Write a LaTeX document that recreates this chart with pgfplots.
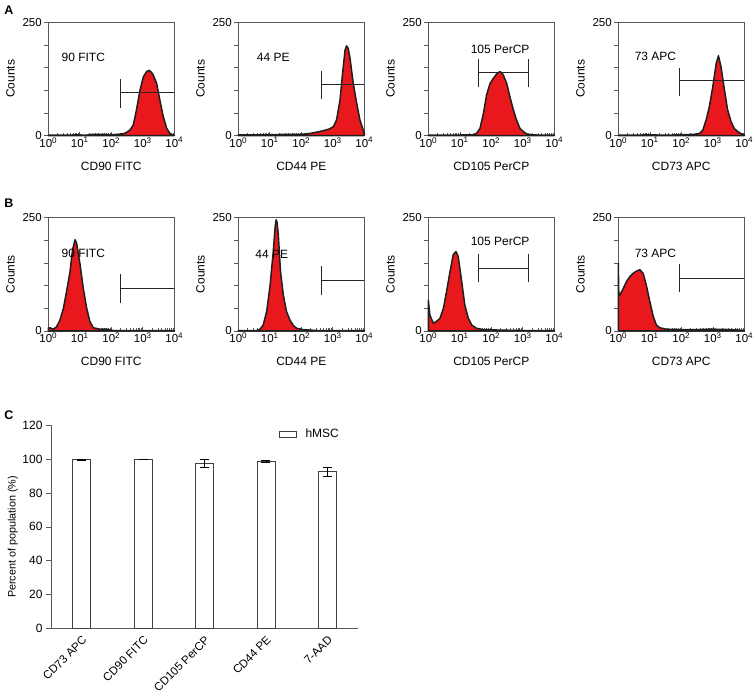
\documentclass[border=0pt]{standalone}
\usepackage{pgfplots}
\pgfplotsset{compat=1.18}
\usepackage{fontspec}
\setmainfont{Liberation Sans}
\definecolor{histred}{RGB}{232,24,28}
\definecolor{axgray}{RGB}{90,90,90}
\tikzset{glabel/.style={font=\fontsize{12}{14}\selectfont, anchor=center}}
\begin{document}
\begin{tikzpicture}
\useasboundingbox (0pt,0pt) rectangle (756pt,700pt);
\pgfplotsset{
  hist/.style={
    width=126pt, height=113.5pt, scale only axis, anchor=south west,
    xmin=0, xmax=4, ymin=0, ymax=250,
    xtick={0,1,2,3,4},
    xticklabels={10\textsuperscript{0},10\textsuperscript{1},10\textsuperscript{2},10\textsuperscript{3},10\textsuperscript{4}},
    minor xtick={0.301,0.477,0.602,0.699,0.778,0.845,0.903,0.954,
                 1.301,1.477,1.602,1.699,1.778,1.845,1.903,1.954,
                 2.301,2.477,2.602,2.699,2.778,2.845,2.903,2.954,
                 3.301,3.477,3.602,3.699,3.778,3.845,3.903,3.954},
    ytick={0,50,100,150,200,250},
    yticklabels={0,,,,,250},
    tick pos=left, tick align=inside,
    major tick length=4pt, minor tick length=2.5pt,
    axis line style={axgray, line width=0.6pt},
    every tick/.style={axgray, line width=0.6pt},
    ytick style={xshift=-4pt},
    ticklabel style={font=\fontsize{11.5}{13}\selectfont},
    xticklabel style={inner sep=1.5pt},
    yticklabel style={xshift=-3pt},
    label style={font=\fontsize{12}{14}\selectfont},
    ylabel={Counts},
    ylabel style={at={(axis description cs:-0.30,0.5)}, anchor=center},
    xlabel style={at={(axis description cs:0.5,-0.27)}, anchor=center},
    clip=false,
  },
  hfill/.style={fill=histred, draw=black!88, line width=1.5pt, line join=round},
  gate/.style={black!85, line width=0.7pt, forget plot},
}
% ---------------- Row A ----------------
\begin{axis}[hist, at={(48.3pt,564.3pt)}, xlabel={CD90 FITC}]
\addplot[hfill] coordinates {(0,1)(0.3,1)(0.6,1)(0.9,2)(1.2,1)(1.4,3)(1.7,3)(2.0,2)(2.2,3)(2.35,4)(2.45,6)(2.59,12)(2.70,24)(2.80,57)(2.91,100)(3.02,130)(3.12,141)(3.20,144)(3.27,140)(3.33,134)(3.44,115)(3.54,79)(3.65,42)(3.76,16)(3.86,5)(3.97,1)(4,1)} \closedcycle;
\addplot[gate] coordinates {(2.30,62)(2.30,125)};
\addplot[gate] coordinates {(2.30,96)(4,96)};
\node[glabel] at (axis cs:1.11,173) {90 FITC};
\end{axis}
\begin{axis}[hist, at={(238.3pt,564.3pt)}, xlabel={CD44 PE}]
\addplot[hfill] coordinates {(0,2)(0.5,2)(1.0,2)(1.5,3)(2.0,3)(2.28,5)(2.5,8)(2.70,11)(2.9,15)(3.02,20)(3.12,35)(3.23,79)(3.31,137)(3.39,189)(3.44,198)(3.49,192)(3.54,174)(3.65,115)(3.76,71)(3.86,35)(3.95,16)(4,5)} \closedcycle;
\addplot[gate] coordinates {(2.65,80)(2.65,143)};
\addplot[gate] coordinates {(2.65,112)(4,112)};
\node[glabel] at (axis cs:1.11,173) {44 PE};
\end{axis}
\begin{axis}[hist, at={(428.3pt,564.3pt)}, xlabel={CD105 PerCP}]
\addplot[hfill] coordinates {(0,1)(0.5,1)(0.9,1)(1.1,2)(1.4,2)(1.53,5)(1.64,16)(1.75,49)(1.85,90)(1.96,115)(2.06,126)(2.17,136)(2.22,139)(2.28,141)(2.33,138)(2.38,134)(2.49,115)(2.59,86)(2.70,57)(2.80,35)(2.91,16)(3.02,9)(3.12,4)(3.3,2)(3.6,1)(4,1)} \closedcycle;
\addplot[gate] coordinates {(1.59,107)(1.59,168)};
\addplot[gate] coordinates {(3.17,107)(3.17,168)};
\addplot[gate] coordinates {(1.59,139)(3.17,139)};
\node[glabel] at (axis cs:2.28,190) {105 PerCP};
\end{axis}
\begin{axis}[hist, at={(618.3pt,564.3pt)}, xlabel={CD73 APC}]
\addplot[hfill] coordinates {(0,1)(0.5,1)(1.0,2)(1.5,1)(2.0,2)(2.4,3)(2.58,5)(2.68,12)(2.79,35)(2.89,64)(3.0,108)(3.11,160)(3.18,176)(3.26,152)(3.37,101)(3.47,57)(3.58,31)(3.68,16)(3.79,9)(3.89,5)(4,2)} \closedcycle;
\addplot[gate] coordinates {(1.95,88)(1.95,150)};
\addplot[gate] coordinates {(1.95,121)(4,121)};
\node[glabel] at (axis cs:1.18,174) {73 APC};
\end{axis}
% ---------------- Row B ----------------
\begin{axis}[hist, at={(48.3pt,369pt)}, xlabel={CD90 FITC}]
\addplot[hfill] coordinates {(0,6)(0.05,7)(0.16,4)(0.26,9)(0.37,24)(0.48,50)(0.58,87)(0.69,131)(0.77,179)(0.85,201)(0.90,193)(1.01,146)(1.11,94)(1.22,50)(1.32,21)(1.43,7)(1.64,4)(1.85,4)(2.06,1)(2.5,1)(3.0,1)(3.5,1)(4,1)} \closedcycle;
\addplot[gate] coordinates {(2.30,62)(2.30,125)};
\addplot[gate] coordinates {(2.30,94)(4,94)};
\node[glabel] at (axis cs:1.11,171) {90 FITC};
\end{axis}
\begin{axis}[hist, at={(238.3pt,369pt)}, xlabel={CD44 PE}]
\addplot[hfill] coordinates {(0,1)(0.3,1)(0.58,1)(0.69,4)(0.79,13)(0.90,43)(1.01,101)(1.11,175)(1.17,230)(1.20,245)(1.23,240)(1.27,212)(1.34,131)(1.43,79)(1.53,43)(1.64,24)(1.75,12)(1.85,6)(2.06,3)(2.49,1)(3.0,1)(3.5,1)(4,1)} \closedcycle;
\addplot[gate] coordinates {(2.65,79)(2.65,143)};
\addplot[gate] coordinates {(2.65,111)(4,111)};
\node[glabel] at (axis cs:1.06,169) {44 PE};
\end{axis}
\begin{axis}[hist, at={(428.3pt,369pt)}, xlabel={CD105 PerCP}]
\addplot[hfill] coordinates {(0,68)(0.05,35)(0.16,17)(0.26,21)(0.37,28)(0.48,50)(0.58,87)(0.69,131)(0.79,168)(0.88,175)(0.95,164)(1.06,109)(1.16,57)(1.27,28)(1.38,13)(1.53,6)(1.75,3)(2.28,2)(3.0,1)(4,1)} \closedcycle;
\addplot[gate] coordinates {(1.59,107)(1.59,169)};
\addplot[gate] coordinates {(3.17,107)(3.17,169)};
\addplot[gate] coordinates {(1.59,138)(3.17,138)};
\node[glabel] at (axis cs:2.28,197) {105 PerCP};
\end{axis}
\begin{axis}[hist, at={(618.3pt,369pt)}, xlabel={CD73 APC}]
\addplot[hfill] coordinates {(0,149)(0.015,85)(0.05,79)(0.16,94)(0.26,109)(0.37,120)(0.47,127)(0.58,132)(0.68,135)(0.79,127)(0.89,101)(1.0,65)(1.11,32)(1.21,13)(1.32,7)(1.53,4)(1.95,3)(2.5,3)(3.0,4)(3.63,3)(4,1)} \closedcycle;
\addplot[gate] coordinates {(1.95,85)(1.95,148)};
\addplot[gate] coordinates {(1.95,116)(4,116)};
\node[glabel] at (axis cs:1.18,171) {73 APC};
\end{axis}
% ---------------- Panel C ----------------
\begin{axis}[
  at={(51pt,71.3pt)}, anchor=south west,
  width=307pt, height=203.7pt, scale only axis,
  xmin=-0.5, xmax=4.5, ymin=0, ymax=120,
  ytick={0,20,40,60,80,100,120},
  xtick={0,1,2,3,4},
  xticklabels={CD73 APC,CD90 FITC,CD105 PerCP,CD44 PE,7-AAD},
  major x tick style={draw=none},
  extra x ticks={-0.5,0.5,1.5,2.5,3.5,4.5},
  extra x tick labels={},
  extra x tick style={major tick length=5pt, tick style={axgray, line width=0.6pt}},
  axis lines*=left, tick align=outside, major tick length=5pt,
  axis line style={axgray, line width=0.7pt},
  every tick/.style={axgray, line width=0.6pt},
  /pgf/number format/assume math mode=true,
  yticklabel style={font=\fontsize{12}{14}\selectfont},
  xticklabel style={rotate=45, anchor=north east, font=\fontsize{11.5}{13}\selectfont, inner sep=1pt},
  ylabel={Percent of population (\%)},
  ylabel style={font=\fontsize{10.8}{12}\selectfont, at={(axis description cs:-0.124,0.45)}, anchor=center},
  legend style={at={(0.733,1.0)}, anchor=north west, draw=none, fill=none, font=\fontsize{12}{14}\selectfont},
  clip=false,
]
\addplot[ybar, bar width=18pt, fill=white, draw=black!75, line width=0.7pt,
  legend image code/.code={\draw[black!75, fill=white, line width=0.6pt] (0pt,-3pt) rectangle (17pt,3pt); \path[draw=none, fill=none] (0pt,0pt) -- (24pt,0pt);},
  error bars/.cd, y dir=both, y explicit,
  error bar style={black, line width=0.6pt},
  error mark options={rotate=90, mark size=4.5pt, black, line width=0.6pt}]
  coordinates {(0,99.6) +- (0,0.2) (1,99.7) +- (0,0.1) (2,97.5) +- (0,2.2) (3,98.6) +- (0,0.5) (4,92.5) +- (0,2.6)};
\addlegendentry{hMSC}
\end{axis}
% panel letters
\node[font=\bfseries\fontsize{12.5}{14}\selectfont] at (9pt,690pt) {A};
\node[font=\bfseries\fontsize{12.5}{14}\selectfont] at (9pt,497pt) {B};
\node[font=\bfseries\fontsize{12.5}{14}\selectfont] at (9pt,285pt) {C};
\end{tikzpicture}
\end{document}
